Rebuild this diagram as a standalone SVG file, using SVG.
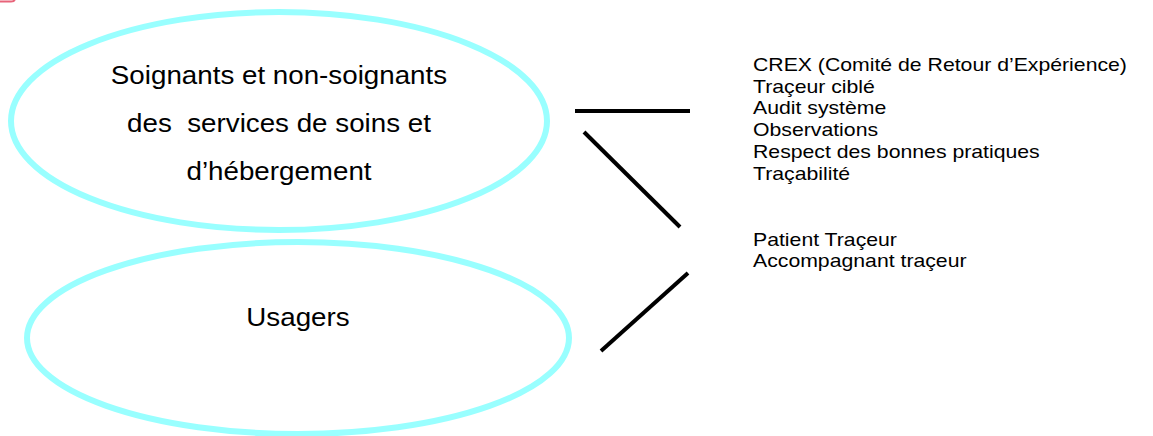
<svg xmlns="http://www.w3.org/2000/svg" width="1153" height="436" viewBox="0 0 1153 436">
<style>
.ell{fill:none;stroke:#99ffff;stroke-width:6}
.big{font-family:"Liberation Sans",Arial,sans-serif;font-size:25px;fill:#000;text-anchor:middle}
.lst{font-family:"Liberation Sans",Arial,sans-serif;font-size:18px;fill:#000}
.con{stroke:#000;stroke-width:4;fill:none}
</style>
<rect width="1153" height="436" fill="#fff"/>
<path d="M0,1.5 H11 Q15,1.5 15,-2" fill="none" stroke="#e8647a" stroke-width="2"/>
<g id="node-soignants">
<ellipse class="ell" cx="279" cy="121" rx="268" ry="109"/>
<g transform="matrix(1.11,0,0,1,-30.69,0)">
<text class="big" x="279" y="84">Soignants et non-soignants</text>
<text class="big" x="279" y="132" xml:space="preserve">des  services de soins et</text>
<text class="big" x="279" y="180">d’hébergement</text>
</g>
</g>
<g id="node-usagers">
<ellipse class="ell" cx="298" cy="338" rx="271" ry="96"/>
<text class="big" x="298" y="326" transform="matrix(1.11,0,0,1,-32.78,0)">Usagers</text>
</g>
<g id="node-methodes" transform="matrix(1.18,0,0,1,-135.54,0)">
<text class="lst" x="753" y="71">CREX (Comité de Retour d’Expérience)</text>
<text class="lst" x="753" y="93">Traçeur ciblé</text>
<text class="lst" x="753" y="114">Audit système</text>
<text class="lst" x="753" y="136">Observations</text>
<text class="lst" x="753" y="158">Respect des bonnes pratiques</text>
<text class="lst" x="753" y="180">Traçabilité</text>
<text class="lst" x="753" y="246">Patient Traçeur</text>
<text class="lst" x="753" y="267">Accompagnant traçeur</text>
</g>
<g id="connectors">
<line class="con" x1="575" y1="111" x2="690" y2="111"/>
<line class="con" x1="584" y1="132" x2="680" y2="227"/>
<line class="con" x1="688" y1="273" x2="601" y2="351"/>
</g>
</svg>
